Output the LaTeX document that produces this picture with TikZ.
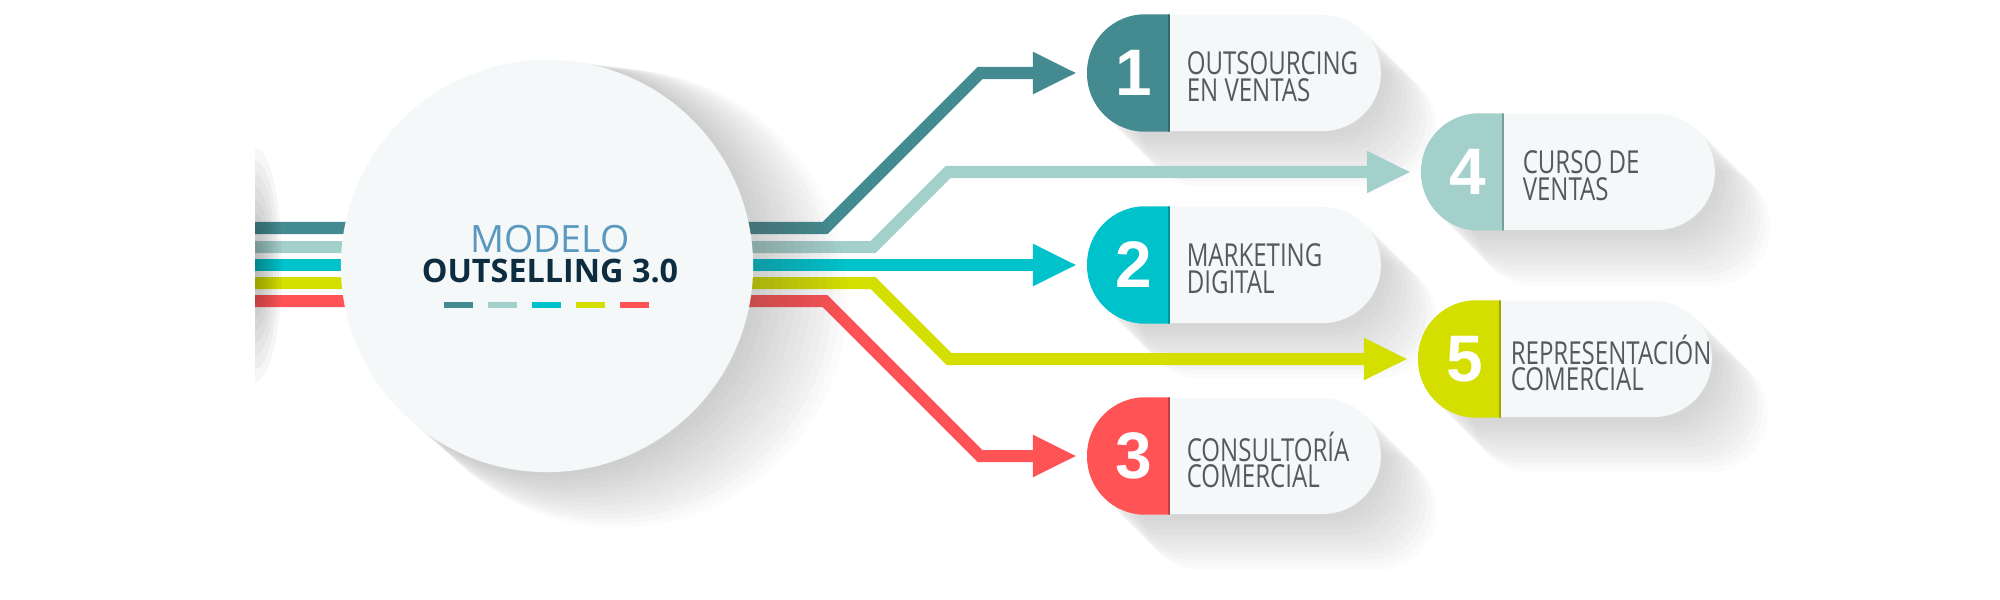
\documentclass[tikz,border=0pt]{standalone}
\usepackage{fontspec}
\setmainfont{Open Sans}
\newfontfamily\numfont{Liberation Sans}
\newfontfamily\pillfont[FakeStretch=0.76]{Open Sans}
\usetikzlibrary{arrows.meta,positioning,calc}
\definecolor{osteal}{HTML}{438B90}
\definecolor{oslight}{HTML}{A4D0CC}
\definecolor{oscyan}{HTML}{00C2CB}
\definecolor{oslime}{HTML}{D4DF00}
\definecolor{osred}{HTML}{FF5356}
\definecolor{ospill}{HTML}{F5F8F9}
\definecolor{ostext}{HTML}{58585A}
\definecolor{ostitle}{HTML}{5A98BF}
\definecolor{osnavy}{HTML}{0E2C40}
\pgfdeclarelayer{shadows}
\pgfdeclarelayer{lines}
\pgfdeclarelayer{hubshade}
\pgfsetlayers{shadows,lines,hubshade,main}
\tikzset{
  pill/.style={rectangle, rounded corners=0.58cm, fill=ospill, minimum width=2.93cm,
    minimum height=1.16cm, inner sep=0, anchor=west},
  numlbl/.style={font=\numfont\bfseries\fontsize{18.7}{20}\selectfont, text=white, inner sep=0},
  pilltxt/.style={font=\pillfont\fontsize{9}{6.5}\selectfont, text=ostext, align=left,
    inner sep=0, anchor=west},
  conn/.style={line width=0.12cm, -{Triangle[length=0.44cm,width=0.39cm]}, shorten >=0.1cm},
  softshade/.style={fill=black!70, opacity=0.024},
}

\begin{document}
\begin{tikzpicture}[x=0.01cm, y=-0.01cm]
\useasboundingbox (0,0) rectangle (2000,600);

% pills
\node[pill] (pill1) at (1087,73) {};
\node[pill] (pill2) at (1087,265) {};
\node[pill] (pill3) at (1087,456) {};
\node[pill] (pill4) at (1421,172) {};
\node[pill] (pill5) at (1418,359) {};

\foreach \i/\c in {1/osteal,2/oscyan,3/osred,4/oslight,5/oslime} {
  \begin{scope}
    \clip[rounded corners=0.58cm] (pill\i.south west) rectangle (pill\i.north east);
    \fill[\c] (pill\i.south west) rectangle ([xshift=0.82cm]pill\i.north west);
    \draw[\c!75!black, line width=0.6pt] ([xshift=0.82cm]pill\i.south west) -- ([xshift=0.82cm]pill\i.north west);
  \end{scope}
  \node[numlbl] (num\i) at ([xshift=0.47cm]pill\i.west) {\i};
  % long shadow
  \begin{pgfonlayer}{shadows}
    \foreach \k in {1,...,11}
      \fill[softshade, rounded corners=0.58cm] ($(pill\i.south west)+(\k*5,\k*5)$) rectangle ($(pill\i.north east)+(\k*5,\k*5)$);
  \end{pgfonlayer}
}

\node[pilltxt] (txt1) at ([xshift=0.99cm,yshift=-0.04cm]pill1.west) {OUTSOURCING\\EN VENTAS};
\node[pilltxt] (txt2) at ([xshift=0.99cm,yshift=-0.04cm]pill2.west) {MARKETING\\DIGITAL};
\node[pilltxt] (txt3) at ([xshift=0.99cm,yshift=-0.04cm]pill3.west) {CONSULTORÍA\\COMERCIAL};
\node[pilltxt] (txt4) at ([xshift=1.01cm,yshift=-0.04cm]pill4.west) {CURSO DE\\VENTAS};
\node[pilltxt] (txt5) at ([xshift=0.92cm,yshift=-0.04cm]pill5.west) {REPRESENTACIÓN\\COMERCIAL};

% hub
\node[circle, fill=ospill, minimum size=4.12cm, inner sep=0] (hub) at (547,266) {};
\begin{pgfonlayer}{hubshade}
  \foreach \k in {1,...,13}
    \fill[softshade] ($(hub.center)+(\k*5.5,\k*2.5)$) circle ({2.06cm+\k*0.5pt});
\end{pgfonlayer}
\node[font=\fontsize{10.7}{12}\selectfont, text=ostitle, anchor=base] (ttl1) at (550,252) {MODELO};
\node[font=\bfseries\fontsize{9.2}{11}\selectfont, text=osnavy, anchor=base] (ttl2) at (550,282) {OUTSELLING 3.0};
\foreach \c [count=\k from 0] in {osteal,oslight,oscyan,oslime,osred}
  \fill[\c] (444+\k*44,302) rectangle ++(29,6);

% connectors
\coordinate (s1) at (255,228);
\coordinate (s4) at (255,247);
\coordinate (s2) at (255,265);
\coordinate (s5) at (255,283);
\coordinate (s3) at (255,301);
\begin{pgfonlayer}{lines}
\draw[conn, osteal] (s1) -- (825,228) -- (980,73) -- (pill1.west);
\draw[conn, oslight] (s4) -- (873,247) -- (948,172) -- (pill4.west);
\draw[conn, oscyan] (s2) -- (pill2.west);
\draw[conn, oslime] (s5) -- (873,283) -- (949,359) -- (pill5.west);
\draw[conn, osred] (s3) -- (825,301) -- (980,456) -- (pill3.west);
\end{pgfonlayer}
% shade at the cut ends
\begin{scope}
  \clip (255,140) rectangle (300,390);
  \foreach \k in {1,...,9}
    \fill[black, opacity=0.035] (255,265) ellipse ({\k*0.03cm} and {\k*0.13cm});
\end{scope}
\end{tikzpicture}
\end{document}
